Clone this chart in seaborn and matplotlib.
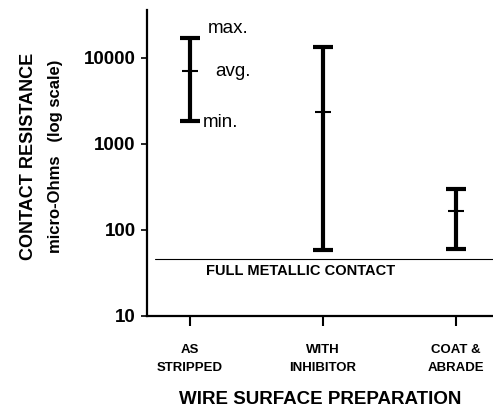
#!/usr/bin/env python3

import numpy as np
import seaborn as sns
import matplotlib.pyplot as plt

# Values (micro-Ohms)
categories = ["AS\nSTRIPPED", "WITH\nINHIBITOR", "COAT &\nABRADE"]
r_min = [1850, 59, 60]
r_avg = [7000, 2350, 165]
r_max = [17000, 13400, 300]
metallic_contact = 46
y_ticks = [10, 100, 1000, 10000]

sns.set_style("ticks")
plt.rcParams["font.family"] = ["Liberation Sans", "DejaVu Sans"]
plt.rcParams.update({"text.color": "black", "axes.labelcolor": "black",
                     "xtick.color": "black", "ytick.color": "black"})


def main():
    fig = plt.figure(figsize=(4.93, 4.15), dpi=100)
    ax = fig.add_axes([0.298, 0.239, 0.702, 0.737])

    x = np.arange(len(categories))
    avg = np.array(r_avg)
    yerr = [avg - np.array(r_min), np.array(r_max) - avg]

    # range bars with caps
    ax.errorbar(x, avg, yerr=yerr, fmt="none", ecolor="black",
                elinewidth=3, capsize=7, capthick=3)
    # avg ticks
    sns.scatterplot(x=x, y=avg, marker="_", s=120, color="black",
                    linewidth=1.5, ax=ax, zorder=5)

    ax.set_yscale("log")
    ax.set_ylim(10, 36100)
    ax.set_xlim(-0.323, 2.278)
    ax.minorticks_off()
    ax.set_yticks(y_ticks)
    ax.set_yticklabels([str(v) for v in y_ticks], fontsize=13.5, fontweight="bold")
    ax.set_xticks(x)
    ax.set_xticklabels(categories, fontsize=9.5, fontweight="bold", linespacing=1.7)
    ax.tick_params(axis="y", length=4, width=1.2, pad=4, color="black")
    ax.tick_params(axis="x", length=7, width=1.5, pad=13, color="black")

    sns.despine(ax=ax)
    for s in ["left", "bottom"]:
        ax.spines[s].set_linewidth(1.6)
        ax.spines[s].set_color("black")

    # full metallic contact reference line
    ax.axhline(metallic_contact, xmin=0.023, xmax=1, color="black", linewidth=0.8)
    ax.text(0.12, 33, "FULL METALLIC CONTACT", fontsize=10.5, fontweight="bold",
            va="center", ha="left")

    # legend-like annotations next to the first bar
    ax.text(0.135, 21700, "max.", fontsize=13.5, va="center", ha="left")
    ax.text(0.19, 7000, "avg.", fontsize=13.5, va="center", ha="left")
    ax.text(0.10, 1750, "min.", fontsize=13.5, va="center", ha="left")

    ax.set_xlabel("WIRE SURFACE PREPARATION", fontsize=13.5, fontweight="bold",
                  labelpad=12)
    fig.text(0.057, 0.624, "CONTACT RESISTANCE", rotation=90, fontsize=13,
             fontweight="bold", ha="center", va="center")
    fig.text(0.113, 0.624, "micro-Ohms   (log scale)", rotation=90, fontsize=12,
             fontweight="bold", ha="center", va="center")

    fig.savefig("out.png", dpi=100)
    plt.close(fig)


if __name__ == "__main__":
    main()
